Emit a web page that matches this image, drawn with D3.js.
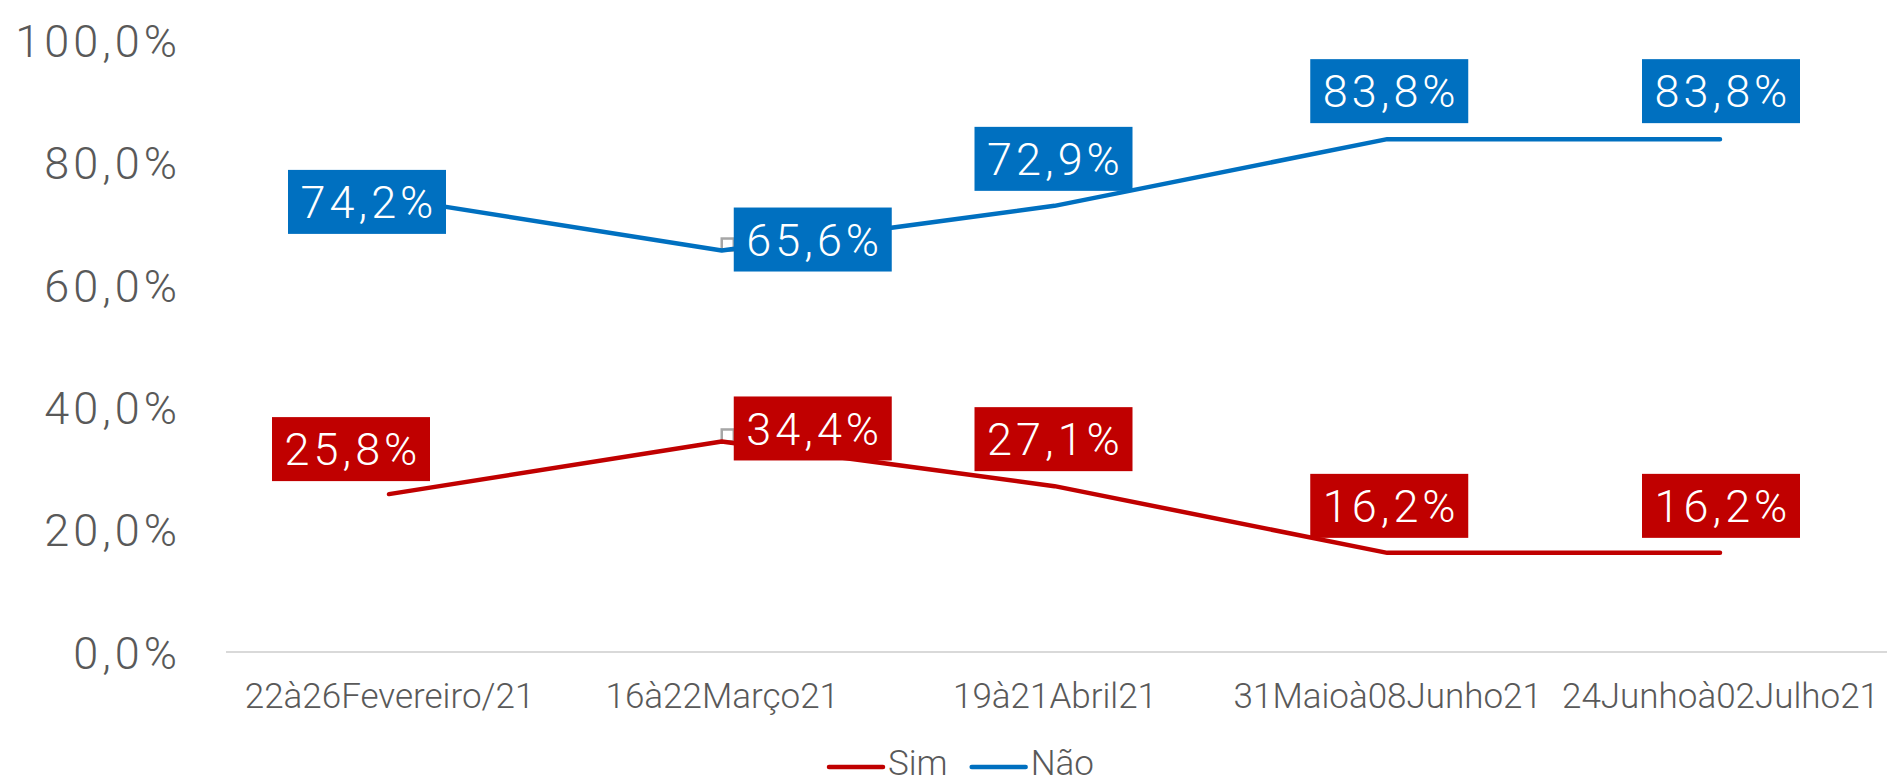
<!DOCTYPE html>
<html>
<head>
<meta charset="utf-8">
<script src="https://cdn.jsdelivr.net/npm/d3@7"></script>
<style>
  html, body { margin: 0; padding: 0; background: #fff; }
  svg { display: block; font-family: Roboto, "Open Sans", sans-serif; font-weight: 300; }
</style>
</head>
<body>
<svg id="chart" width="1887" height="783"></svg>
<script>
// data
var categories = ["22à26Fevereiro/21", "16à22Março21", "19à21Abril21", "31Maioà08Junho21", "24Junhoà02Julho21"];
var simValues = [0.258, 0.344, 0.271, 0.162, 0.162];
var naoValues = [0.742, 0.656, 0.729, 0.838, 0.838];
var yTicks = [0, 0.2, 0.4, 0.6, 0.8, 1.0];
var seriesNames = ["Sim", "Não"];

var W = 1887, H = 783;
var colors = { "Sim": "#C00000", "Não": "#0070C0" };

// label box centre, relative to its point
var labelOffsets = {
  "Não": [[-22, 4], [91, -11], [-1, -47], [2, -48], [1, -48]],
  "Sim": [[-38, -45], [91, -13], [-1, -47], [2, -47], [1, -47]]
};

var locale = d3.formatLocale({ decimal: ",", thousands: ".", grouping: [3], currency: ["R$", ""] });
var pct = locale.format(".1%");

var svg = d3.select("#chart");

var x = d3.scalePoint().domain(categories).range([389, 1720]);
var y = d3.scaleLinear().domain([0, 1]).range([652, 40]);

// baseline
svg.append("line")
    .attr("x1", 226).attr("x2", W)
    .attr("y1", y(0)).attr("y2", y(0))
    .attr("stroke", "#d9d9d9").attr("stroke-width", 2);

// y axis labels
var yAxis = svg.append("g")
    .attr("transform", "translate(181,0)")
    .call(d3.axisLeft(y).tickValues(yTicks).tickSize(0).tickPadding(0).tickFormat(pct));
yAxis.select(".domain").remove();
yAxis.selectAll("text")
    .attr("font-family", "Roboto, sans-serif")
    .attr("font-weight", 300)
    .attr("font-size", 45)
    .attr("letter-spacing", 4)
    .attr("fill", "#595959")
    .attr("dy", "0.36em");

// x axis labels
var xAxis = svg.append("g")
    .attr("transform", "translate(0," + y(0) + ")")
    .call(d3.axisBottom(x).tickSize(0).tickPadding(0));
xAxis.select(".domain").remove();
xAxis.selectAll("text")
    .attr("font-family", "Roboto, sans-serif")
    .attr("font-weight", 300)
    .attr("font-size", 35)
    .attr("fill", "#595959")
    .attr("y", 56)
    .attr("dy", 0);

var series = [
  { name: "Sim", values: simValues },
  { name: "Não", values: naoValues }
];

var line = d3.line()
    .x(function(d, i) { return x(categories[i]); })
    .y(function(d) { return y(d); });

// stray grey marker left on the second point
series.forEach(function(s) {
  svg.append("rect")
      .attr("x", x(categories[1]))
      .attr("y", y(s.values[1]) - 12)
      .attr("width", 12).attr("height", 12)
      .attr("fill", "none")
      .attr("stroke", "#a6a6a6")
      .attr("stroke-width", 2.5);
});

svg.selectAll(".series")
    .data(series)
  .enter().append("path")
    .attr("class", "series")
    .attr("d", function(d) { return line(d.values); })
    .attr("fill", "none")
    .attr("stroke", function(d) { return colors[d.name]; })
    .attr("stroke-width", 4.5)
    .attr("stroke-linecap", "round")
    .attr("stroke-linejoin", "round");

// data labels
series.forEach(function(s) {
  s.values.forEach(function(v, i) {
    var off = labelOffsets[s.name][i];
    var cx = x(categories[i]) + off[0];
    var cy = y(v) + off[1];
    var g = svg.append("g");
    g.append("rect")
        .attr("fill", colors[s.name])
        .attr("x", cx - 79).attr("y", cy - 32)
        .attr("width", 158).attr("height", 64);
    g.append("text")
        .attr("x", cx + 2).attr("y", cy)
        .attr("text-anchor", "middle")
        .attr("dy", "0.36em")
        .attr("font-size", 45)
        .attr("letter-spacing", 4)
        .attr("fill", "#fff")
        .text(pct(v));
  });
});

// legend
var legend = svg.append("g");
var lx = 829;
seriesNames.forEach(function(name) {
  legend.append("line")
      .attr("x1", lx).attr("x2", lx + 54)
      .attr("y1", 767).attr("y2", 767)
      .attr("stroke", colors[name]).attr("stroke-width", 4.5)
      .attr("stroke-linecap", "round");
  var t = legend.append("text")
      .attr("x", lx + 59).attr("y", 775)
      .attr("font-size", 35)
      .attr("fill", "#595959")
      .text(name);
  lx += 59 + t.node().getBBox().width + 24;
});
</script>
</body>
</html>
